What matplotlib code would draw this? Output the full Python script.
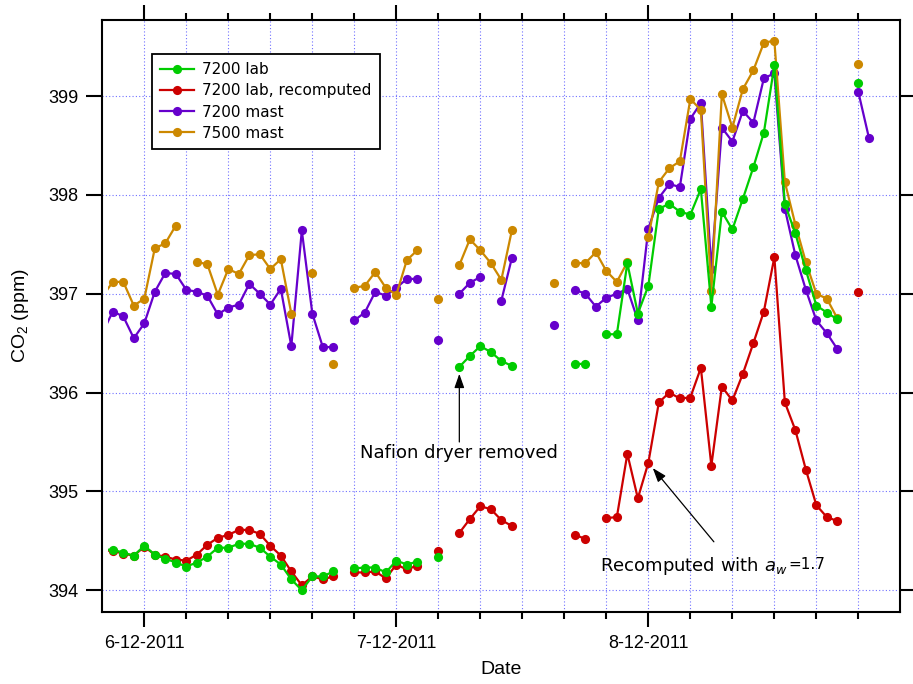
import numpy as np
import matplotlib
matplotlib.use("Agg")
from matplotlib import pyplot as plt
from matplotlib.patches import Rectangle

nan = np.nan

# sample times: days after 6-12-2011, one sample every 1.25 days
start_day = -5.0
step_days = 1.25

lab_7200 = [394.41, 394.41, 394.38, 394.35, 394.45, 394.36, 394.32, 394.28, 394.24, 394.28,
            394.34, 394.43, 394.43, 394.47, 394.47, 394.43, 394.34, 394.26, 394.11, 394.00,
            394.14, 394.14, 394.19, nan, 394.22, 394.23, 394.23, 394.18, 394.30, 394.26,
            394.29, nan, 394.34, nan, 396.26, 396.37, 396.47, 396.41, 396.32, 396.27,
            nan, nan, nan, nan, nan, 396.29, 396.29, nan, 396.59, 396.59,
            397.31, 396.80, 397.08, 397.86, 397.91, 397.83, 397.80, 398.06, 396.87, 397.83,
            397.65, 397.96, 398.28, 398.63, 399.31, 397.91, 397.61, 397.24, 396.88, 396.81,
            396.74, nan, 399.13, nan]

lab_7200_recomp = [394.40, 394.40, 394.37, 394.35, 394.44, 394.36, 394.34, 394.31, 394.30, 394.36,
                   394.46, 394.53, 394.56, 394.61, 394.61, 394.57, 394.45, 394.35, 394.19, 394.05,
                   394.14, 394.11, 394.14, nan, 394.18, 394.18, 394.19, 394.12, 394.26, 394.21,
                   394.25, nan, 394.40, nan, 394.58, 394.72, 394.85, 394.82, 394.71, 394.65,
                   nan, nan, nan, nan, nan, 394.56, 394.52, nan, 394.73, 394.74,
                   395.38, 394.93, 395.29, 395.90, 396.00, 395.94, 395.95, 396.25, 395.26, 396.06,
                   395.92, 396.19, 396.50, 396.82, 397.37, 395.90, 395.62, 395.22, 394.86, 394.74,
                   394.70, nan, 397.02, nan]

mast_7200 = [396.60, 396.82, 396.77, 396.55, 396.70, 397.02, 397.21, 397.20, 397.04, 397.02,
             396.98, 396.79, 396.86, 396.89, 397.10, 397.00, 396.89, 397.05, 396.47, 397.64,
             396.80, 396.46, 396.46, nan, 396.73, 396.81, 397.02, 396.98, 397.06, 397.15,
             397.15, nan, 396.53, nan, 397.00, 397.11, 397.17, nan, 396.93, 397.36,
             nan, nan, nan, 396.68, nan, 397.04, 397.00, 396.87, 396.96, 397.00,
             397.05, 396.73, 397.66, 397.97, 398.11, 398.08, 398.77, 398.93, 397.25, 398.68,
             398.54, 398.85, 398.73, 399.18, 399.23, 397.86, 397.39, 397.04, 396.73, 396.60,
             396.44, nan, 399.04, 398.58]

mast_7500 = [396.97, 397.12, 397.12, 396.88, 396.95, 397.46, 397.51, 397.69, nan, 397.32,
             397.30, 396.99, 397.25, 397.20, 397.39, 397.40, 397.25, 397.35, 396.80, nan,
             397.21, nan, 396.29, nan, 397.06, 397.08, 397.22, 397.06, 396.99, 397.34,
             397.44, nan, 396.95, nan, 397.29, 397.55, 397.44, 397.31, 397.14, 397.64,
             nan, nan, nan, 397.11, nan, 397.31, 397.31, 397.42, 397.23, 397.12,
             397.32, nan, 397.57, 398.13, 398.27, 398.34, 398.97, 398.86, 397.03, 399.02,
             398.68, 399.07, 399.26, 399.54, 399.56, 398.13, 397.70, 397.32, 397.00, 396.95,
             396.75, nan, 399.32, nan]

tick_labels = ["6-12-2011", "7-12-2011", "8-12-2011"]
label_days = [0, 30, 60]

days = start_day + step_days * np.arange(len(lab_7200))

plt.rcParams["mathtext.default"] = "regular"
fig = plt.figure(figsize=(9.13, 6.84), dpi=100)
ax = fig.add_axes([0.1114, 0.1053, 0.8744, 0.8655])
ax.set_xlim(-5.07, 89.96)
ax.set_ylim(393.78, 399.77)

# igor clips the traces a little inside the left axis
clip = Rectangle((-4.3, 390), 100, 15, transform=ax.transData)

series = [("7200 mast", mast_7200, "#6600cc"),
          ("7500 mast", mast_7500, "#cc8800"),
          ("7200 lab, recomputed", lab_7200_recomp, "#cc0000"),
          ("7200 lab", lab_7200, "#00cc00")]
lines = {}
for name, vals, col in series:
    ln, = ax.plot(days, vals, "-o", color=col, lw=1.6, ms=6.6, mew=0, label=name)
    ln.set_clip_path(clip)
    lines[name] = ln

order = ["7200 lab", "7200 lab, recomputed", "7200 mast", "7500 mast"]
leg = ax.legend([lines[n] for n in order], order, loc="upper left",
                bbox_to_anchor=(0.063, 0.9426), borderaxespad=0, fancybox=False,
                framealpha=1, edgecolor="black", prop={"family": "DejaVu Sans", "size": 11},
                handlelength=2.2, handletextpad=0.55, labelspacing=0.4, borderpad=0.55)
leg.get_frame().set_linewidth(1.3)

ax.set_xticks(label_days)
ax.set_xticklabels(tick_labels)
ax.set_xticks(np.arange(0, 90, 5), minor=True)
ax.set_yticks(np.arange(394, 400))
ax.tick_params(which="both", direction="out", top=True, right=True, width=1.5,
               labelsize=13, labelfontfamily="Liberation Sans")
ax.tick_params(axis="x", which="major", length=10.5, pad=6)
ax.tick_params(axis="x", which="minor", length=5.2)
ax.tick_params(axis="y", which="major", length=11.3, pad=5.3)
for s in ax.spines.values():
    s.set_linewidth(1.5)

ax.grid(True, which="both", axis="x", color="#7070ff", ls=(0, (1, 2)), lw=0.8)
ax.grid(True, which="major", axis="y", color="#7070ff", ls=(0, (1, 2)), lw=0.8)
ax.set_axisbelow(True)

ax.set_xlabel("Date", fontsize=14, family="Liberation Sans")
ax.set_ylabel("CO$_2$ (ppm)", fontsize=14, family="Liberation Sans")
ax.xaxis.set_label_coords(0.5, -0.083)
ax.yaxis.set_label_coords(-0.0886, 0.5)

arrow = dict(arrowstyle="-|>,head_length=0.85,head_width=0.3", color="black",
             lw=0.9, shrinkA=0, shrinkB=5)
ax.annotate("", xy=(days[34], lab_7200[34]), xytext=(37.5, 395.5), arrowprops=arrow)
ax.text(37.5, 395.39, "Nafion dryer removed", ha="center", va="center",
        fontsize=13, family="DejaVu Sans")
ax.annotate("", xy=(days[52], lab_7200_recomp[52]), xytext=(67.8, 394.49), arrowprops=arrow)
t = ax.text(54.25, 394.25, "Recomputed with $\\mathit{a_w}$", ha="left", va="center",
            fontsize=13, family="DejaVu Sans")
ax.annotate("=1.7", xy=(1, 0), xycoords=t, xytext=(0.5, 3), textcoords="offset points",
            va="bottom", ha="left", fontsize=11, family="DejaVu Sans")

fig.savefig("out.png", dpi=100)
